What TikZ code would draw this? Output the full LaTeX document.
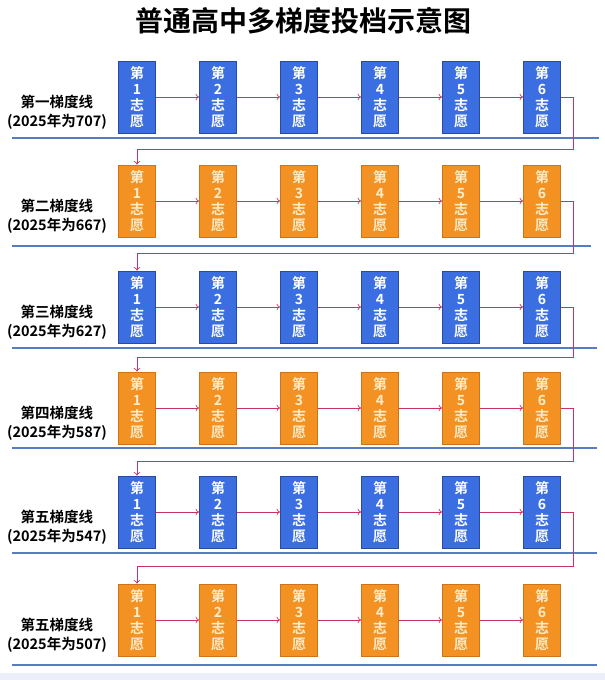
\documentclass[tikz,border=0pt]{standalone}
\usepackage{fontspec}
\usepackage{xcolor}
\usepackage{tikz}
\usetikzlibrary{arrows.meta}
\newfontfamily\cjk{Noto Sans CJK SC Bold}
\definecolor{boxblue}{RGB}{59,110,225}
\definecolor{edgeblue}{RGB}{40,75,160}
\definecolor{boxorange}{RGB}{243,146,35}
\definecolor{edgeorange}{RGB}{205,115,25}
\definecolor{linkred}{RGB}{200,50,100}
\definecolor{sepblue}{RGB}{85,125,195}
\definecolor{paletext}{RGB}{255,236,200}
\definecolor{bottomband}{RGB}{236,239,250}

\begin{document}
\begin{tikzpicture}[x=1pt, y=-1pt,
		choice/.style={minimum width=37pt, minimum height=72pt, inner sep=0pt, align=center, font=\cjk\fontsize{14}{15.8}\selectfont, line width=0.8pt},
		bluechoice/.style={choice, draw=edgeblue, fill=boxblue, text=white},
		orangechoice/.style={choice, draw=edgeorange, fill=boxorange, text=paletext},
		tier/.style={align=center, font=\cjk\fontsize{14.5}{19}\selectfont},
		link/.style={-{To[length=3.5pt,width=6.5pt]}, draw=linkred, line width=0.7pt},
		sep/.style={draw=sepblue, line width=1.3pt}]
			\fill[white] (0,0) rectangle (605,680);
			\fill[bottomband] (0,673) rectangle (605,680);
			\useasboundingbox (0,0) rectangle (605,680);

			\node[font=\cjk\fontsize{28}{30}\selectfont] (title) at (303,21) {普通高中多梯度投档示意图};

			% first tier
			\node[tier] (firstlabel) at (57,112) {第一梯度线\\(2025年为707)};
			\node[bluechoice] (first1) at (137,97) {第\\1\\志\\愿};
			\node[bluechoice] (first2) at (218,97) {第\\2\\志\\愿};
			\node[bluechoice] (first3) at (299,97) {第\\3\\志\\愿};
			\node[bluechoice] (first4) at (380,97) {第\\4\\志\\愿};
			\node[bluechoice] (first5) at (461,97) {第\\5\\志\\愿};
			\node[bluechoice] (first6) at (542,97) {第\\6\\志\\愿};
			\draw[sep] (12,138) -- (599,138);

			% second tier
			\node[tier] (secondlabel) at (57,216) {第二梯度线\\(2025年为667)};
			\node[orangechoice] (second1) at (137,201) {第\\1\\志\\愿};
			\node[orangechoice] (second2) at (218,201) {第\\2\\志\\愿};
			\node[orangechoice] (second3) at (299,201) {第\\3\\志\\愿};
			\node[orangechoice] (second4) at (380,201) {第\\4\\志\\愿};
			\node[orangechoice] (second5) at (461,201) {第\\5\\志\\愿};
			\node[orangechoice] (second6) at (542,201) {第\\6\\志\\愿};
			\draw[sep] (12,246) -- (591,246);

			% third tier
			\node[tier] (thirdlabel) at (57,322) {第三梯度线\\(2025年为627)};
			\node[bluechoice] (third1) at (137,307) {第\\1\\志\\愿};
			\node[bluechoice] (third2) at (218,307) {第\\2\\志\\愿};
			\node[bluechoice] (third3) at (299,307) {第\\3\\志\\愿};
			\node[bluechoice] (third4) at (380,307) {第\\4\\志\\愿};
			\node[bluechoice] (third5) at (461,307) {第\\5\\志\\愿};
			\node[bluechoice] (third6) at (542,307) {第\\6\\志\\愿};
			\draw[sep] (12,348) -- (597,348);

			% fourth tier
			\node[tier] (fourthlabel) at (57,423) {第四梯度线\\(2025年为587)};
			\node[orangechoice] (fourth1) at (137,408) {第\\1\\志\\愿};
			\node[orangechoice] (fourth2) at (218,408) {第\\2\\志\\愿};
			\node[orangechoice] (fourth3) at (299,408) {第\\3\\志\\愿};
			\node[orangechoice] (fourth4) at (380,408) {第\\4\\志\\愿};
			\node[orangechoice] (fourth5) at (461,408) {第\\5\\志\\愿};
			\node[orangechoice] (fourth6) at (542,408) {第\\6\\志\\愿};
			\draw[sep] (12,448) -- (597,448);

			% fifth tier
			\node[tier] (fifthlabel) at (57,527) {第五梯度线\\(2025年为547)};
			\node[bluechoice] (fifth1) at (137,512) {第\\1\\志\\愿};
			\node[bluechoice] (fifth2) at (218,512) {第\\2\\志\\愿};
			\node[bluechoice] (fifth3) at (299,512) {第\\3\\志\\愿};
			\node[bluechoice] (fifth4) at (380,512) {第\\4\\志\\愿};
			\node[bluechoice] (fifth5) at (461,512) {第\\5\\志\\愿};
			\node[bluechoice] (fifth6) at (542,512) {第\\6\\志\\愿};
			\draw[sep] (12,553) -- (597,553);

			% sixth tier
			\node[tier] (sixthlabel) at (57,635) {第五梯度线\\(2025年为507)};
			\node[orangechoice] (sixth1) at (137,620) {第\\1\\志\\愿};
			\node[orangechoice] (sixth2) at (218,620) {第\\2\\志\\愿};
			\node[orangechoice] (sixth3) at (299,620) {第\\3\\志\\愿};
			\node[orangechoice] (sixth4) at (380,620) {第\\4\\志\\愿};
			\node[orangechoice] (sixth5) at (461,620) {第\\5\\志\\愿};
			\node[orangechoice] (sixth6) at (542,620) {第\\6\\志\\愿};
			\draw[sep] (12,665) -- (597,665);

			% connectors along each tier
			\draw[link] (first1) -- (first2); \draw[link] (first2) -- (first3); \draw[link] (first3) -- (first4);
			\draw[link] (first4) -- (first5); \draw[link] (first5) -- (first6);
			\draw[link] (second1) -- (second2); \draw[link] (second2) -- (second3); \draw[link] (second3) -- (second4);
			\draw[link] (second4) -- (second5); \draw[link] (second5) -- (second6);
			\draw[link] (third1) -- (third2); \draw[link] (third2) -- (third3); \draw[link] (third3) -- (third4);
			\draw[link] (third4) -- (third5); \draw[link] (third5) -- (third6);
			\draw[link] (fourth1) -- (fourth2); \draw[link] (fourth2) -- (fourth3); \draw[link] (fourth3) -- (fourth4);
			\draw[link] (fourth4) -- (fourth5); \draw[link] (fourth5) -- (fourth6);
			\draw[link] (fifth1) -- (fifth2); \draw[link] (fifth2) -- (fifth3); \draw[link] (fifth3) -- (fifth4);
			\draw[link] (fifth4) -- (fifth5); \draw[link] (fifth5) -- (fifth6);
			\draw[link] (sixth1) -- (sixth2); \draw[link] (sixth2) -- (sixth3); \draw[link] (sixth3) -- (sixth4);
			\draw[link] (sixth4) -- (sixth5); \draw[link] (sixth5) -- (sixth6);

			% returns to the next tier
			\draw[link] (first6.east) -- ++(12.5,0) -- ++(0,52) -| (second1.north);
			\draw[link] (second6.east) -- ++(12.5,0) -- ++(0,52) -| (third1.north);
			\draw[link] (third6.east) -- ++(12.5,0) -- ++(0,50) -| (fourth1.north);
			\draw[link] (fourth6.east) -- ++(12.5,0) -- ++(0,53) -| (fifth1.north);
			\draw[link] (fifth6.east) -- ++(12.5,0) -- ++(0,54) -| (sixth1.north);
		\end{tikzpicture}
\end{document}
